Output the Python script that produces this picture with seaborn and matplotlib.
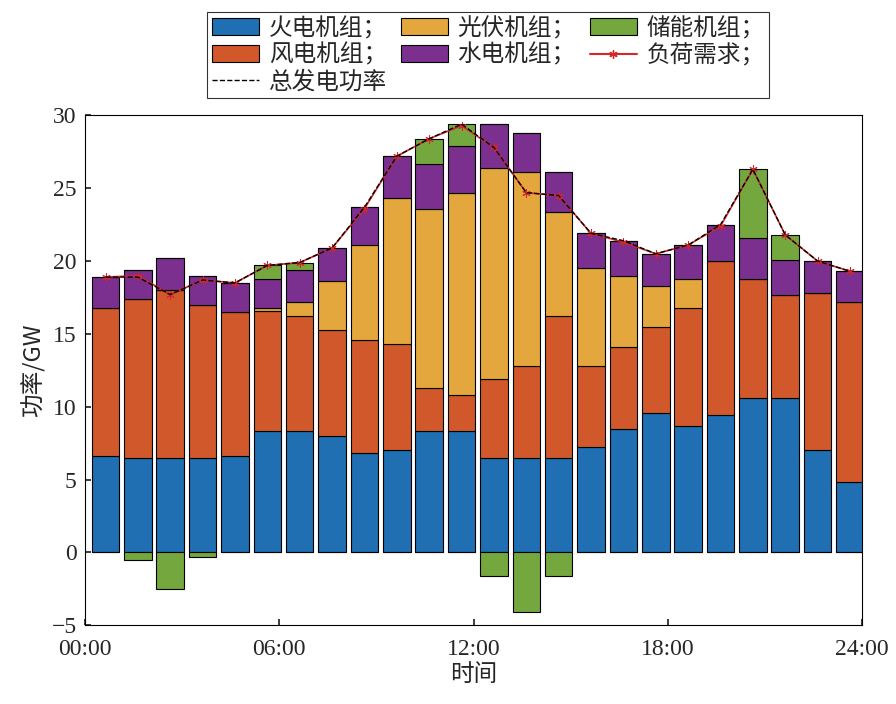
import matplotlib
matplotlib.use("Agg")
import matplotlib.pyplot as plt
import seaborn as sns
import numpy as np
import pandas as pd
from matplotlib.patches import Patch
from matplotlib.lines import Line2D

thermal = [6.6,6.5,6.5,6.5,6.6,8.3,8.3,8.0,6.8,7.0,8.3,8.3,6.5,6.5,6.5,7.2,8.5,9.6,8.7,9.4,10.6,10.6,7.0,4.8]
wind    = [10.2,10.9,11.5,10.5,9.9,8.3,7.9,7.3,7.8,7.3,3.0,2.5,5.4,6.3,9.7,5.6,5.6,5.9,8.1,10.6,8.2,7.1,10.8,12.4]
pv      = [0,0,0,0,0,0.2,1.0,3.3,6.5,10.0,12.3,13.9,14.5,13.3,7.2,6.7,4.9,2.8,2.0,0,0,0,0,0]
hydro   = [2.1,2.0,2.2,2.0,2.0,2.0,2.2,2.3,2.6,2.9,3.1,3.2,3.0,2.7,2.7,2.4,2.4,2.2,2.3,2.5,2.8,2.4,2.2,2.1]
storage = [0,-0.5,-2.5,-0.3,0,0.9,0.5,0,0,0,1.7,1.5,-1.6,-4.1,-1.6,0,0,0,0,0,4.7,1.7,0,0]
load    = [18.9,19.0,17.7,18.7,18.5,19.7,19.9,20.9,23.6,27.2,28.4,29.3,27.8,24.7,24.5,21.9,21.3,20.5,21.1,22.4,26.3,21.8,20.0,19.3]
xticks = [0,6,12,18,24]
xticklabels = ["00:00","06:00","12:00","18:00","24:00"]

sns.set_theme(style="white")
plt.rcParams['font.family'] = ['Liberation Serif', 'Noto Sans CJK SC']
plt.rcParams['font.size'] = 17

fig = plt.figure(figsize=(8.96, 7.04), dpi=100)
ax = fig.add_axes([0.095, 0.112, 0.867, 0.724])

hours = np.arange(24) + 0.63
colors = {"thermal": "#1F6FB2", "wind": "#D0582B", "pv": "#E3A73E", "hydro": "#7B2F8E", "storage": "#74A83F"}
w = 0.85
ek = dict(edgecolor="black", linewidth=0.8)
b = np.zeros(24)
for vals, c in [(thermal, colors["thermal"]), (wind, colors["wind"]), (pv, colors["pv"]), (hydro, colors["hydro"])]:
    v = np.array(vals)
    ax.bar(hours, v, width=w, bottom=b, color=c, **ek)
    b = b + v
st = np.array(storage)
ax.bar(hours, np.where(st > 0, st, 0), width=w, bottom=b, color=colors["storage"], **ek)
ax.bar(hours, np.where(st < 0, st, 0), width=w, bottom=0, color=colors["storage"], **ek)

total = b + st
df = pd.DataFrame({"h": hours, "load": load, "total": total})
sns.lineplot(data=df, x="h", y="load", ax=ax, color="#D62728", marker=(6, 2, 0), markersize=6,
             markeredgecolor="#D62728", linewidth=1.2)
sns.lineplot(data=df, x="h", y="total", ax=ax, color="black", linestyle="--", linewidth=1.0)

ax.set_xlim(0, 24)
ax.set_ylim(-5, 30)
ax.set_xticks(xticks)
ax.set_xticklabels(xticklabels)
ax.set_yticks(range(-5, 31, 5))
ax.set_yticklabels(["−5"] + [str(v) for v in range(0, 31, 5)])
ax.tick_params(direction="in", length=4, labelsize=17, top=False, right=False, left=True, bottom=True)
ax.tick_params(axis="x", pad=10)
ax.tick_params(axis="y", pad=6)
for s in ax.spines.values():
    s.set_color("black"); s.set_linewidth(0.8)
ax.set_xlabel("时间", fontsize=17, family=['Noto Sans CJK SC'], labelpad=2)
ax.set_ylabel("功率/GW", fontsize=17, family=['Noto Sans CJK SC', 'Liberation Serif'])

blank = Patch(facecolor="none", edgecolor="none")
h_th = Patch(facecolor=colors["thermal"], **ek)
h_wi = Patch(facecolor=colors["wind"], **ek)
h_pv = Patch(facecolor=colors["pv"], **ek)
h_hy = Patch(facecolor=colors["hydro"], **ek)
h_st = Patch(facecolor=colors["storage"], **ek)
h_ld = Line2D([], [], color="#D62728", marker=(6, 2, 0), markersize=6)
h_to = Line2D([], [], color="black", linestyle="--", linewidth=1.0)
handles = [h_th, h_wi, h_to, h_pv, h_hy, blank, h_st, h_ld, blank]
labels = ["火电机组；", "风电机组；", "总发电功率", "光伏机组；", "水电机组；", "", "储能机组；", "负荷需求；", ""]
leg = fig.legend(handles, labels, ncol=3, loc="upper center", bbox_to_anchor=(0.545, 1.0),
                 prop={'family': ['Noto Sans CJK SC'], 'size': 17}, frameon=True, fancybox=False,
                 edgecolor="black", handlelength=2.0, columnspacing=0.6, handletextpad=0.4,
                 labelspacing=0.15, borderpad=0.2)
leg.get_frame().set_linewidth(0.8)

fig.savefig("out.png", dpi=100)
